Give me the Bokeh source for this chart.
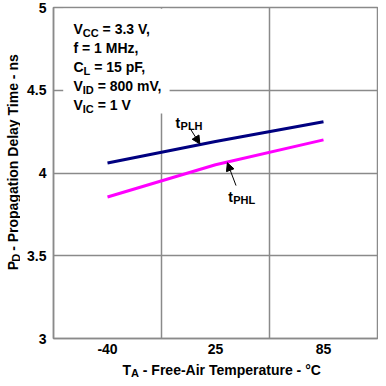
import numpy as np
from bokeh.plotting import figure
from bokeh.layouts import row, column
from bokeh.models import Range1d, FixedTicker, Label, Arrow, NormalHead, BoxAnnotation
from bokeh.embed import file_html
from bokeh.resources import INLINE

temps = ["-40", "25", "85"]
tplh = [4.06, 4.19, 4.31]
tphl = [3.855, 4.05, 4.20]
y_ticks = [3, 3.5, 4, 4.5, 5]
y_tick_labels = ["3", "3.5", "4", "4.5", "5"]

FONT = "Liberation Sans"
FS = "14px"
SUB = "11px"
SP = 3.9  # width of a space at 14px
GRID = "#8a8a8a"

TOTAL_W = 378
MAIN_H = 359
TITLE_W = 20
XT_H = TOTAL_W - MAIN_H

xs = np.arange(len(temps))

p = figure(width=TOTAL_W - TITLE_W, height=MAIN_H,
           x_range=Range1d(-0.5, len(temps) - 0.5),
           y_range=Range1d(3, 5), output_backend="svg", toolbar_location=None,
           min_border_left=33, min_border_right=1, min_border_top=7,
           min_border_bottom=21)
p.background_fill_color = "white"
p.border_fill_color = "white"
p.outline_line_color = GRID
p.outline_line_width = 1.5

for ax in (p.xaxis, p.yaxis):
    ax.axis_line_color = GRID
    ax.axis_line_width = 1.5
    ax.major_tick_line_color = None
    ax.minor_tick_line_color = None
    ax.major_tick_out = 0
    ax.major_tick_in = 0
    ax.minor_tick_out = 0
    ax.major_label_text_font = FONT
    ax.major_label_text_font_style = "bold"
    ax.major_label_text_font_size = FS
    ax.major_label_text_color = "black"
p.xaxis.ticker = FixedTicker(ticks=list(xs))
p.xaxis.major_label_overrides = {int(i): t for i, t in zip(xs, temps)}
p.xaxis.major_label_standoff = 5
p.yaxis.ticker = FixedTicker(ticks=y_ticks)
p.yaxis.major_label_overrides = {t: l for t, l in zip(y_ticks, y_tick_labels)}
p.yaxis.major_label_standoff = 7

p.xgrid.ticker = FixedTicker(ticks=list(xs[:-1] + 0.5))
p.ygrid.ticker = FixedTicker(ticks=y_ticks[1:-1])
for g in (p.xgrid, p.ygrid):
    g.grid_line_color = GRID
    g.grid_line_width = 1.5

p.line(xs, tplh, line_color="#000080", line_width=3)
p.line(xs, tphl, line_color="#ff00ff", line_width=3)

p.add_layout(BoxAnnotation(left=-0.41, right=0.575, bottom=4.36, top=4.993,
                           fill_color="white", fill_alpha=1.0, line_color=None))


def lab(fig, x, y, text, xo=0, yo=0, size=FS, angle=0, align="left", baseline="alphabetic"):
    fig.add_layout(Label(x=x, y=y, text=text, x_offset=xo, y_offset=yo,
                         text_font=FONT, text_font_style="bold", text_font_size=size,
                         text_color="black", angle=angle, text_align=align,
                         text_baseline=baseline))


lines = [("V", "CC", "= 3.3 V,", 9.3),
         ("f = 1 MHz,", "", "", 0),
         ("C", "L", "= 15 pF,", 10.1),
         ("V", "ID", "= 800 mV,", 9.3),
         ("V", "IC", "= 1 V", 9.3)]
sub_w = {"CC": 15.9, "L": 6.7, "ID": 11.0, "IC": 11.0}
x0 = 20
for k, (a, s, b, wa) in enumerate(lines):
    yo = -21 - 19 * k
    lab(p, -0.5, 5, a, xo=x0, yo=yo)
    if s:
        lab(p, -0.5, 5, s, xo=x0 + wa, yo=yo - 4, size=SUB)
        lab(p, -0.5, 5, b, xo=x0 + wa + sub_w[s] + SP, yo=yo)

lab(p, 0.63, 4.305, "t")
lab(p, 0.63, 4.305, "PLH", xo=5, yo=-3, size=SUB)
lab(p, 1.117, 3.858, "t")
lab(p, 1.117, 3.858, "PHL", xo=5, yo=-3, size=SUB)

p.add_layout(Arrow(x_start=0.765, y_start=4.269, x_end=0.855, y_end=4.176,
                   line_color="black", line_width=1,
                   end=NormalHead(size=8, fill_color="black", line_color="black")))
p.add_layout(Arrow(x_start=1.19, y_start=3.924, x_end=1.11, y_end=4.062,
                   line_color="black", line_width=1,
                   end=NormalHead(size=8, fill_color="black", line_color="black")))


def blank(w, h):
    f = figure(width=w, height=h, x_range=Range1d(0, w), y_range=Range1d(h, 0),
               output_backend="svg", toolbar_location=None,
               x_axis_location=None, y_axis_location=None,
               min_border=0, min_border_left=0, min_border_right=0,
               min_border_top=0, min_border_bottom=0)
    f.outline_line_color = None
    f.grid.visible = False
    f.background_fill_color = "white"
    f.border_fill_color = "white"
    return f


# y axis title (rotated), in its own strip
yt = blank(TITLE_W, MAIN_H)
ang = np.pi / 2
ys0 = 285
lab(yt, 12, ys0, "P", angle=ang)
lab(yt, 15, ys0 - 9.3, "D", angle=ang, size=SUB)
lab(yt, 12, ys0 - 9.3 - 7.9 - SP, "- Propagation Delay Time - ns", angle=ang)

# x axis title, in its own strip
xt = blank(TOTAL_W, XT_H)
xs0 = 122
lab(xt, xs0, 10, "T")
lab(xt, xs0 + 8.5, 13, "A", size=SUB)
lab(xt, xs0 + 8.5 + 7.9 + SP, 10, "- Free-Air Temperature - °C")

layout = column(row(yt, p), xt)
open("out.html", "w").write(file_html(layout, INLINE))
